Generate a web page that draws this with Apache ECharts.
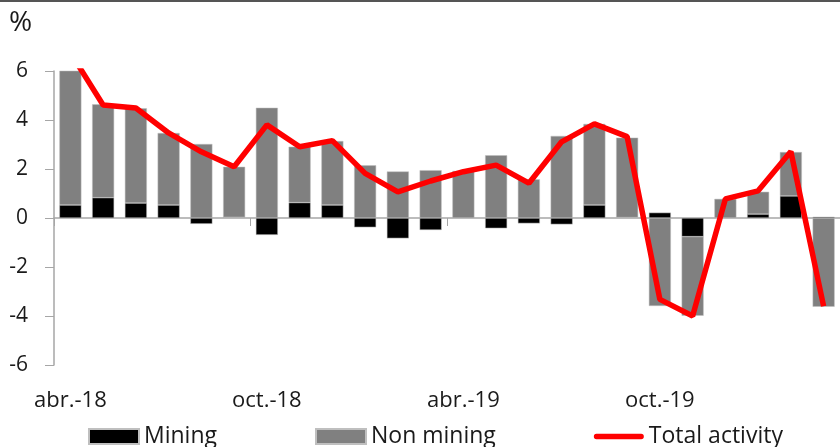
<!DOCTYPE html>
<html>
<head>
<meta charset="utf-8">
<script src="https://cdn.jsdelivr.net/npm/echarts@6/dist/echarts.min.js"></script>
<style>html,body{margin:0;padding:0;background:#fff}#c{width:840px;height:447px}</style>
</head>
<body>
<div id="c"></div>
<script>
const categories = ['abr.-18','may.-18','jun.-18','jul.-18','ago.-18','sept.-18','oct.-18','nov.-18','dic.-18','ene.-19','feb.-19','mar.-19','abr.-19','may.-19','jun.-19','jul.-19','ago.-19','sept.-19','oct.-19','nov.-19','dic.-19','ene.-20','feb.-20','mar.-20'];
const mining =    [0.53, 0.83, 0.61, 0.53, -0.24, 0.03, -0.69, 0.63, 0.53, -0.38, -0.83, -0.49, 0.0, -0.42, -0.22, -0.26, 0.53, 0.02, 0.22, -0.76, 0.0, 0.16, 0.90, 0.05];
const nonMining = [6.2, 3.81, 3.87, 2.94, 3.02, 2.06, 4.50, 2.28, 2.61, 2.15, 1.90, 1.95, 1.92, 2.56, 1.58, 3.35, 3.31, 3.26, -3.59, -3.23, 0.78, 0.91, 1.79, -3.62];
const total =     [6.75, 4.61, 4.49, 3.47, 2.70, 2.09, 3.80, 2.91, 3.16, 1.82, 1.07, 1.51, 1.89, 2.16, 1.42, 3.11, 3.84, 3.32, -3.32, -4.00, 0.78, 1.11, 2.71, -3.60];
const yTicks = {min: -6, max: 6, interval: 2};

const FONT = 'Open Sans';
const TXT = '#1a1a1a';
const chart = echarts.init(document.getElementById('c'), null, {renderer: 'canvas'});
chart.setOption({
  animation: false,
  textStyle: {fontFamily: FONT},
  graphic: [
    {type: 'line', shape: {x1: 0, y1: 1, x2: 840, y2: 1}, style: {stroke: '#555555', lineWidth: 2}},
    {type: 'text', x: 9, y: 23, style: {text: '%', fontFamily: FONT, fontSize: 28, fill: TXT, verticalAlign: 'middle', align: 'left'}}
  ],
  grid: {left: 54, right: -1, top: 71, bottom: 82, containLabel: false},
  legend: {
    left: 88, top: 425, padding: 0, itemWidth: 50, itemHeight: 15, itemGap: 98,
    textStyle: {fontFamily: FONT, fontSize: 23, color: TXT},
    data: [
      {name: 'Mining', icon: 'rect'},
      {name: 'Non mining', icon: 'rect'},
      {name: 'Total activity', icon: 'path://M3,0 L54,0 A3,3 0 0 1 54,6 L3,6 A3,3 0 0 1 3,0 Z'}
    ]
  },
  xAxis: [
    {
      type: 'category', data: categories, boundaryGap: true,
      axisLine: {onZero: true, lineStyle: {color: '#a6a6a6', width: 1.5}},
      axisTick: {show: true, interval: 5, length: 8, lineStyle: {color: '#a6a6a6'}},
      axisLabel: {show: false}
    },
    {
      type: 'category', data: categories, boundaryGap: true, position: 'bottom',
      axisLine: {show: false, onZero: false},
      axisTick: {show: false},
      axisLabel: {show: true, interval: 5, margin: 25, fontFamily: FONT, fontSize: 22, color: TXT}
    }
  ],
  yAxis: {
    type: 'value', min: yTicks.min, max: yTicks.max, interval: yTicks.interval,
    axisLine: {show: true, lineStyle: {color: '#a6a6a6', width: 1.5}},
    axisTick: {show: true, length: 9, lineStyle: {color: '#a6a6a6'}},
    splitLine: {show: false},
    axisLabel: {margin: 26, fontFamily: FONT, fontSize: 21, color: TXT}
  },
  series: [
    {name: 'Mining', type: 'bar', stack: 'a', data: mining, barWidth: 22, itemStyle: {color: '#000000', borderColor: '#bfbfbf', borderWidth: 0.5}},
    {name: 'Non mining', type: 'bar', stack: 'a', data: nonMining, barWidth: 22, itemStyle: {color: '#808080', borderColor: '#bfbfbf', borderWidth: 0.5}},
    {name: 'Total activity', type: 'line', data: total, symbol: 'none', z: 5, lineStyle: {color: '#ff0000', width: 5.5}, itemStyle: {color: '#ff0000'}}
  ]
});
</script>
</body>
</html>
